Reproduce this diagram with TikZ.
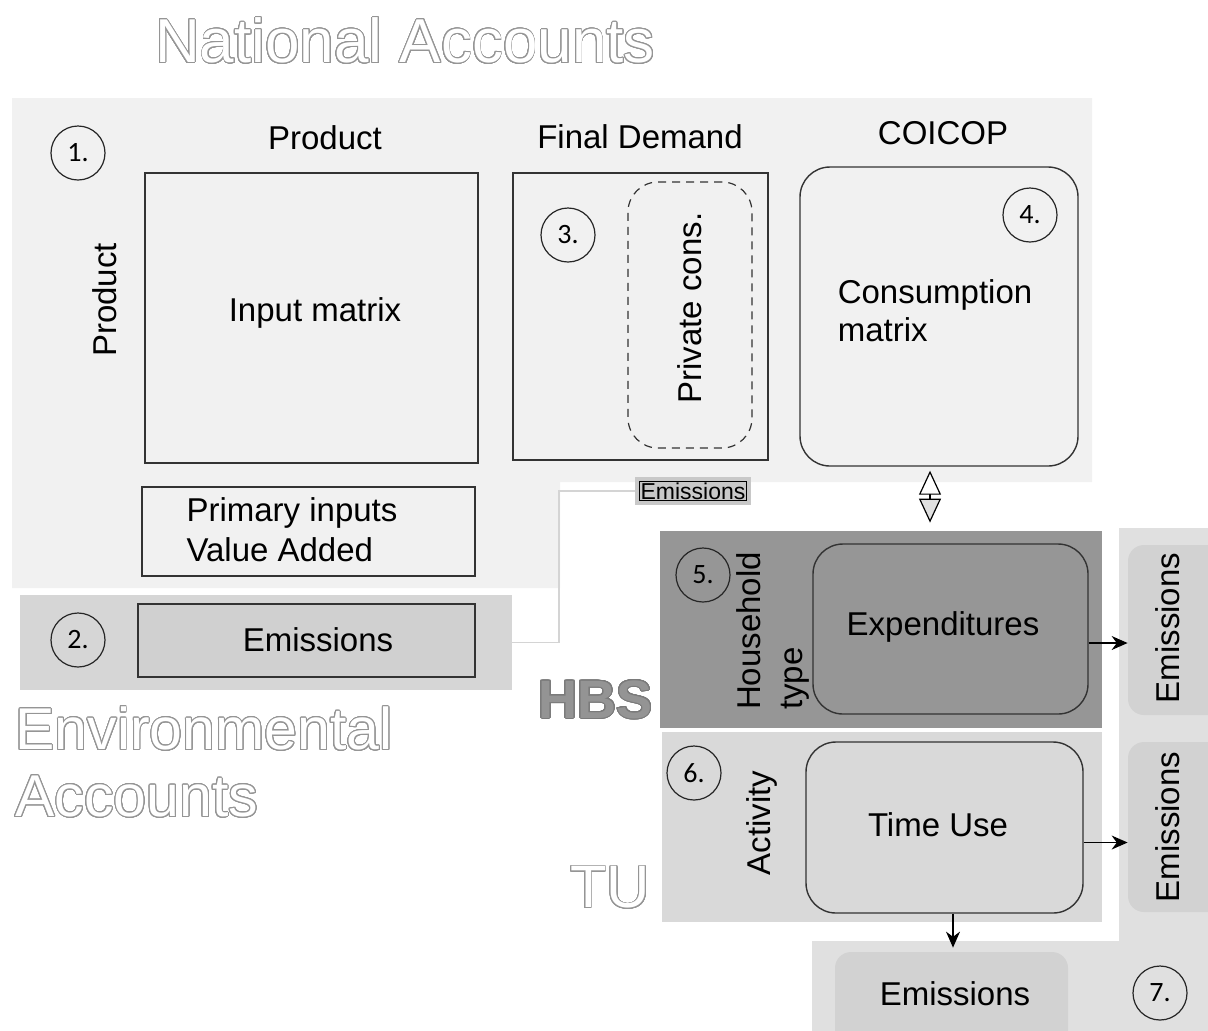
\documentclass[tikz,border=0pt]{standalone}
\usepackage{fontspec}
\setmainfont{Liberation Sans}
\newfontfamily\numfont{Carlito}
\usepackage{contour}
\contourlength{0.45pt}
\contournumber{32}
\usetikzlibrary{fit,arrows.meta,calc}
\definecolor{panelA}{HTML}{F1F1F1}
\definecolor{panelEnv}{HTML}{D6D6D6}
\definecolor{boxEnv}{HTML}{D0D0D0}
\definecolor{smallEm}{HTML}{C8C8C8}
\definecolor{panelHBS}{HTML}{969696}
\definecolor{panelTU}{HTML}{D9D9D9}
\definecolor{panelSeven}{HTML}{E0E0E0}
\definecolor{emBox}{HTML}{D2D2D2}
\definecolor{outlineGray}{HTML}{959595}
\definecolor{linkGray}{HTML}{D4D4D4}
\begin{document}
\begin{tikzpicture}[x=0.5pt,y=-0.5pt,
  lbl/.style={font=\fontsize{16.5}{19.5}\selectfont, inner sep=0pt},
  numc/.style={draw=black!85, circle, line width=0.6pt, minimum size=27pt, inner sep=0pt, font=\numfont\fontsize{14}{16}\selectfont},
  sqbox/.style={draw=black!80, line width=0.8pt, inner sep=0pt},
  rbox/.style={draw=black!80, line width=0.7pt, inner sep=0pt, rounded corners=15pt},
  embox/.style={fill=emBox, inner sep=0pt, rounded corners=8pt},
  area/.style={inner sep=0pt},
  arr/.style={-{Stealth[length=8pt,width=7pt]}, line width=0.6pt},
  outl/.style={inner sep=0pt, font=\fontsize{31}{36}\selectfont},
  linkline/.style={draw=linkGray, line width=0.8pt}
]
\useasboundingbox (0,0) rectangle (1208,1030);
\clip (0,0) rectangle (1208,1030);

% ---------- background panels ----------
\fill[panelA] (12,98) -- (1092,98) -- (1092,482) -- (560,482) -- (560,588) -- (12,588) -- cycle;
\fill[panelSeven] (1119,528) -- (1230,528) -- (1230,1050) -- (812,1050) -- (812,941) -- (1119,941) -- cycle;
\node[area, fill=panelEnv, fit={(20,595) (512,690)}] (envp) {};
\node[area, fill=panelHBS, fit={(660,531) (1102,728)}] (hbsp) {};
\node[area, fill=panelTU, fit={(662,732) (1102,922)}] (tup) {};

% ---------- titles ----------
\node[outl] (natt) at (405,41) {\contour{outlineGray}{\textcolor{white}{National Accounts}}};
\node[outl, anchor=west, font=\fontsize{29.5}{34}\selectfont] (envt1) at (15,729) {\contour{outlineGray}{\textcolor{white}{Environmental}}};
\node[outl, anchor=west, font=\fontsize{29.5}{34}\selectfont] (envt2) at (15,797) {\contour{outlineGray}{\textcolor{white}{Accounts}}};
\node[inner sep=0pt, anchor=west, font=\bfseries\fontsize{27}{32}\selectfont] (hbst) at (538,700) {\contour{black!52}{\textcolor{black!42}{HBS}}};
\node[inner sep=0pt, font=\fontsize{30}{34}\selectfont] (tut) at (610,888) {\contour{outlineGray}{\textcolor{white}{TU}}};

% ---------- panel 1 ----------
\node[numc] (n1) at (78,153) {1.};
\node[lbl] (prodtop) at (325,138) {Product};
\node[lbl, rotate=90] (prodleft) at (105,300) {Product};
\node[sqbox, fit={(145,173) (478,463)}] (inm) {};
\node[lbl] (inmt) at (315,313) {Input matrix};
\node[sqbox, fit={(142,487) (475,576)}] (prim) {};
\node[lbl, align=left, font=\fontsize{16.5}{20}\selectfont] (primt) at (292,530) {Primary inputs\\Value Added};

\node[lbl] (fdt) at (640,137) {Final Demand};
\node[sqbox, fit={(513,173) (768,460)}] (fd) {};
\node[numc] (n3) at (568,235) {3.};
\node[draw=black!80, line width=0.6pt, dash pattern=on 4pt off 3pt, rounded corners=15pt, inner sep=0pt, fit={(628,182) (752,448)}] (pc) {};
\node[lbl, rotate=90] (pct) at (690,308) {Private cons.};

\node[lbl] (coit) at (943,133) {COICOP};
\node[rbox, fit={(800,167) (1078,466)}] (cm) {};
\node[numc] (n4) at (1030,215) {4.};
\node[lbl, align=left, font=\fontsize{16.5}{19}\selectfont] (cmt) at (935,311) {Consumption\\matrix};

% ---------- panel 2 ----------
\node[numc] (n2) at (78,640) {2.};
\node[sqbox, fill=boxEnv, fit={(138,604) (475,677)}] (em2) {};
\node[lbl] (em2t) at (318,640) {Emissions};
\node[fill=smallEm, inner sep=2pt, font=\fontsize{11.5}{13}\selectfont] (smallem) at (693,491) {\fboxsep=0.2pt\fboxrule=0.5pt\fbox{Emissions}};
\draw[linkline] (envp.east) -| ([xshift=-38pt]smallem.west) -- (smallem.west);

% ---------- panel 5 (HBS) ----------
\node[numc] (n5) at (703,575) {5.};
\node[lbl, rotate=90, align=left, font=\fontsize{16.5}{21}\selectfont] (hht) at (773,631) {Household\\type};
\node[rbox, fill=panelHBS, fit={(813,544) (1088,714)}] (exp) {};
\node[lbl] (expt) at (943,627) {Expenditures};

% ---------- panel 6 (TU) ----------
\node[numc] (n6) at (694,773) {6.};
\node[lbl, rotate=90] (actt) at (762,823) {Activity};
\node[rbox, fill=panelTU, fit={(806,742) (1083,913)}] (tu) {};
\node[lbl] (tut2) at (938,825) {Time Use};

% ---------- panel 7 ----------
\node[embox, fit={(1128,545) (1230,715)}] (emA) {};
\node[lbl, rotate=90] (emAt) at (1168,628) {Emissions};
\node[embox, fit={(1128,742) (1230,912)}] (emB) {};
\node[lbl, rotate=90] (emBt) at (1168,827) {Emissions};
\node[embox, fit={(835,952) (1068,1060)}] (emC) {};
\node[lbl] (emCt) at (955,994) {Emissions};
\node[numc] (n7) at (1160,993) {7.};

% ---------- connectors ----------
\draw[line width=0.6pt, {Triangle[open, length=12pt, width=11pt, fill=white]}-{Triangle[open, length=12pt, width=11pt, fill=black!12]}, shorten <=2pt, shorten >=4pt]
  ([xshift=-4.5pt]cm.south) -- ([xshift=-4.5pt]cm.south |- hbsp.north);
\draw[arr] ([yshift=-7pt]exp.east) -- ([yshift=-7pt]exp.east -| emA.west);
\draw[arr] ([yshift=-7.5pt]tu.east) -- ([yshift=-7.5pt]tu.east -| emB.west);
\draw[arr] ([xshift=4.25pt]tu.south) -- ([xshift=4.25pt,yshift=2pt]tu.south |- emC.north);
\end{tikzpicture}
\end{document}
